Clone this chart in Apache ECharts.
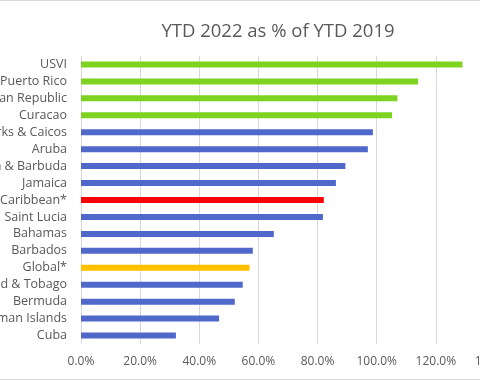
<!DOCTYPE html>
<html><head><meta charset="utf-8">
<script src="https://cdn.jsdelivr.net/npm/echarts@6/dist/echarts.min.js"></script>
<style>html,body{margin:0;padding:0;background:#fff}#c{width:480px;height:380px}</style>
</head><body><div id="c"></div>
<script>
const categories = ["USVI","Puerto Rico","Dominican Republic","Curacao","Turks & Caicos","Aruba","Antigua & Barbuda","Jamaica","Caribbean*","Saint Lucia","Bahamas","Barbados","Global*","Trinidad & Tobago","Bermuda","Cayman Islands","Cuba"];
const values = [129.0,114.0,107.0,105.2,98.7,97.0,89.4,86.2,82.1,81.8,65.2,58.1,57.0,54.7,52.0,46.7,32.1];
const barColors = ["#7ed321","#7ed321","#7ed321","#7ed321","#4f68c9","#4f68c9","#4f68c9","#4f68c9","#ff0000","#4f68c9","#4f68c9","#4f68c9","#ffc000","#4f68c9","#4f68c9","#4f68c9","#4f68c9"];
const xTicks = [0,20,40,60,80,100,120,140];

const chart = echarts.init(document.getElementById('c'), null, {renderer:'canvas'});
chart.setOption({
  animation:false,
  backgroundColor:'#fff',
  title:{text:'YTD 2022 as % of YTD 2019', left:273, top:17, textAlign:'center',
    textStyle:{color:'#595959', fontSize:18.5, fontWeight:'normal', fontFamily:'Open Sans'}},
  grid:{left:81, right:-15, top:56, bottom:36, containLabel:false, outerBoundsMode:'none'},
  xAxis:{type:'value', min:xTicks[0], max:xTicks[xTicks.length-1], interval:20,
    axisLine:{show:false}, axisTick:{show:false},
    splitLine:{lineStyle:{color:'#d9d9d9', width:1}},
    axisLabel:{color:'#595959', fontSize:12, fontFamily:'Open Sans', margin:12,
      formatter:v=>v.toFixed(1)+'%'}},
  yAxis:{type:'category', data:categories, inverse:true,
    axisLine:{show:true, lineStyle:{color:'#d9d9d9'}}, axisTick:{show:false},
    axisLabel:{color:'#595959', fontSize:12.5, fontFamily:'Open Sans', margin:14}},
  series:[{type:'bar', barWidth:6,
    data:values.map((v,i)=>({value:v, itemStyle:{color:barColors[i]}}))}],
  graphic:[
    {type:'line', shape:{x1:0,y1:0.5,x2:480,y2:0.5}, style:{stroke:'#d9d9d9', lineWidth:1}},
    {type:'line', shape:{x1:0,y1:379.5,x2:480,y2:379.5}, style:{stroke:'#d9d9d9', lineWidth:1}}
  ]
});
</script></body></html>
